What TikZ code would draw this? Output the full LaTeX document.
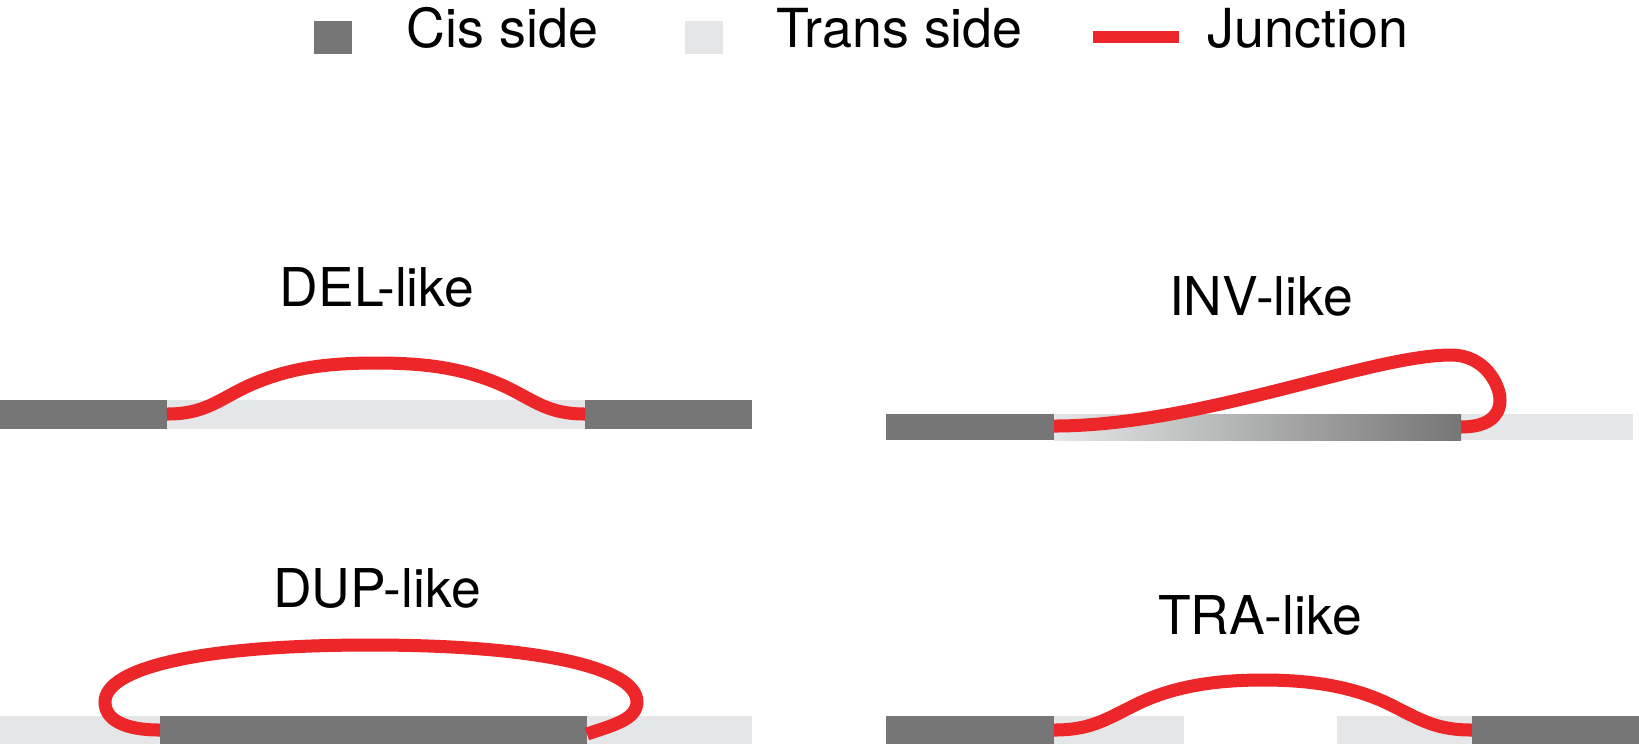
\documentclass[tikz,border=0pt]{standalone}
\usepackage{fontspec}
\setmainfont{TeX Gyre Heros}
\usetikzlibrary{positioning}
\definecolor{cisgray}{RGB}{117,118,117}
\definecolor{transgray}{RGB}{229,230,231}
\definecolor{junred}{RGB}{236,38,41}

\begin{document}
\begin{tikzpicture}[
  x=0.01cm, y=-0.01cm,
  cis/.style={fill=cisgray, draw=none},
  trans/.style={fill=transgray, draw=none},
  junction/.style={draw=junred, line width=3.7pt, line cap=butt},
  legtext/.style={font=\fontsize{15.3}{18}\selectfont, inner sep=0pt, anchor=base west},
  svtype/.style={font=\fontsize{15.2}{18}\selectfont, inner sep=0pt, anchor=base}
]
  \useasboundingbox (0,0) rectangle (1639,744);

  % legend
  \fill[cis] (314,21) rectangle (352,54);
  \node[legtext] (cistext) at (406,47) {Cis side};
  \fill[trans] (685,21) rectangle (723,54);
  \node[legtext] (transtext) at (776,47) {Trans side};
  \coordinate (jl) at (1093,37);
  \coordinate (jr) at (1179,37);
  \draw[junction, line width=3.6pt] (jl) -- (jr);
  \node[legtext] (juntext) at (1207,47) {Junction};

  % DEL-like
  \node[svtype] (del) at (377,306) {DEL-like};
  \fill[trans] (167,400) rectangle (585,429);
  \fill[cis] (0,400) rectangle (167,429);
  \fill[cis] (585,400) rectangle (752,429);
  \coordinate (delA) at (167,414);
  \coordinate (delB) at (585,414);
  \draw[junction] (delA) .. controls (205,414) and (218,400) .. (248,386)
    .. controls (288,368) and (326,363) .. (376,363)
    .. controls (426,363) and (464,368) .. (504,386)
    .. controls (534,400) and (547,414) .. (delB);

  % INV-like
  \node[svtype] (inv) at (1261,315) {INV-like};
  \fill[trans] (1461,414) rectangle (1633,440);
  \shade[left color=transgray, right color=cisgray] (1054,414) rectangle (1461,440);
  \fill[cis] (886,414) rectangle (1054,440);
  \coordinate (invA) at (1054,426);
  \coordinate (invB) at (1461,427);
  \draw[junction] (invA) .. controls (1200,426) and (1370,355) .. (1451,355)
    .. controls (1485,355) and (1500,385) .. (1500,400)
    .. controls (1500,418) and (1485,427) .. (invB);

  % DUP-like
  \node[svtype] (dup) at (377,607) {DUP-like};
  \fill[trans] (0,716) rectangle (752,744);
  \fill[cis] (160,716) rectangle (587,744);
  \coordinate (dupA) at (160,730);
  \coordinate (dupB) at (587,734);
  \draw[junction] (dupA) .. controls (125,730) and (105,720) .. (105,702)
    .. controls (105,668) and (200,645) .. (370,645)
    .. controls (540,645) and (637,668) .. (637,702)
    .. controls (637,720) and (610,726) .. (dupB);

  % TRA-like
  \node[svtype] (tra) at (1260,634) {TRA-like};
  \fill[trans] (1054,716) rectangle (1184,744);
  \fill[trans] (1337,716) rectangle (1472,744);
  \fill[cis] (886,716) rectangle (1054,744);
  \fill[cis] (1472,716) rectangle (1639,744);
  \coordinate (traA) at (1054,730);
  \coordinate (traB) at (1472,730);
  \draw[junction] (traA) .. controls (1090,730) and (1105,720) .. (1135,705)
    .. controls (1175,685) and (1220,680) .. (1263,680)
    .. controls (1306,680) and (1351,685) .. (1391,705)
    .. controls (1421,720) and (1436,730) .. (traB);
\end{tikzpicture}
\end{document}
